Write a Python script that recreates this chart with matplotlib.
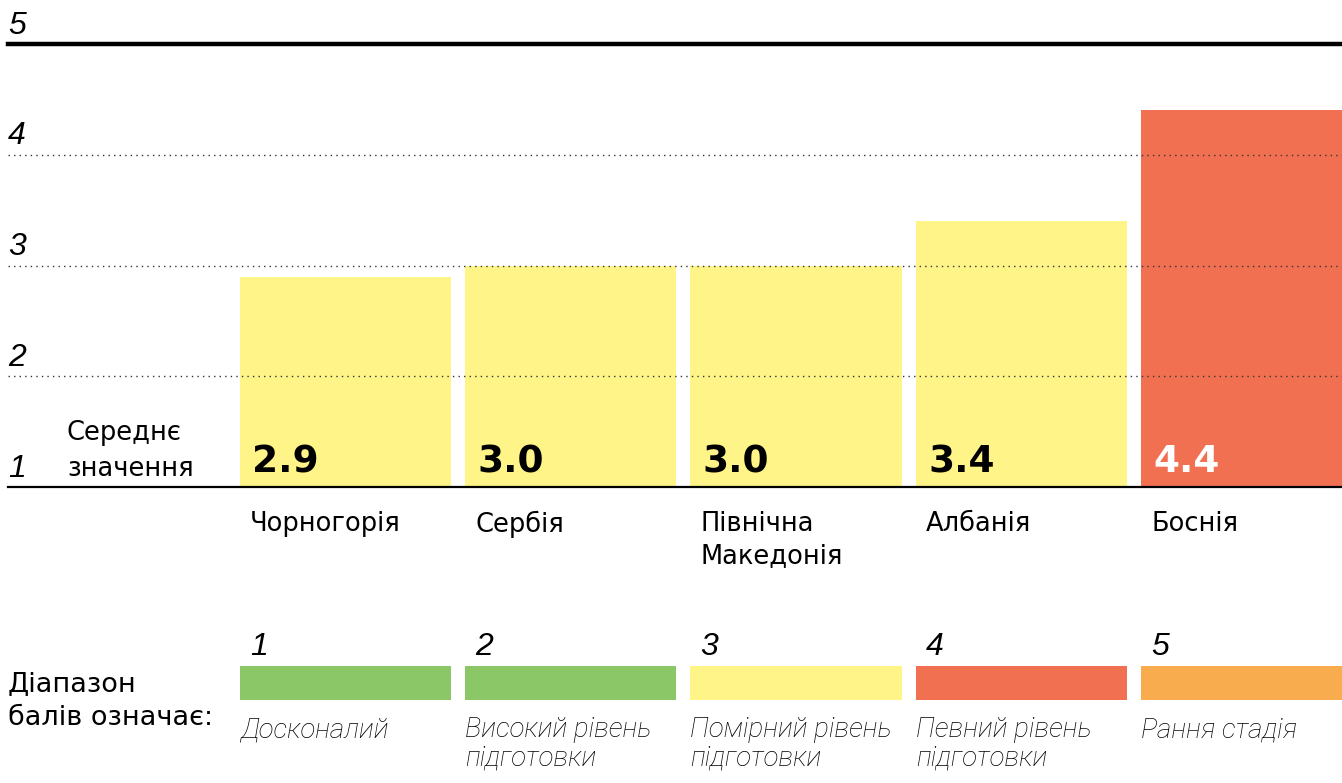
import matplotlib
matplotlib.use('Agg')
import matplotlib.pyplot as plt
import matplotlib.transforms as mtransforms
import numpy as np

# data
countries = ['Чорногорія', 'Сербія', 'Північна\nМакедонія', 'Албанія', 'Боснія']
scores = [2.9, 3.0, 3.0, 3.4, 4.4]
bar_colors = ['#FEF488', '#FEF488', '#FEF488', '#FEF488', '#F27052']
value_colors = ['black', 'black', 'black', 'black', 'white']

levels = ['1', '2', '3', '4', '5']
level_colors = ['#8BC766', '#8BC766', '#FEF488', '#F27052', '#F9AC4E']
level_desc = ['Досконалий', 'Високий рівень\nпідготовки', 'Помірний рівень\nпідготовки',
              'Певний рівень\nпідготовки', 'Рання стадія']

W, H = 1342, 783
fig = plt.figure(figsize=(W / 100, H / 100), dpi=100)

bw = 0.937
# main axes: x from px 8 to 1342, y from px 44 (val 5) to 487 (val 1)
unit = 225.25
x0 = (8 - 345.5) / unit
x1 = (1342 - 345.5) / unit
ax = fig.add_axes([8 / W, (H - 487) / H, (1342 - 8) / W, (487 - 44) / H])
ax.set_xlim(x0, x1)
ax.set_ylim(1, 5)
ax.axis('off')

x = np.arange(len(scores))
ax.bar(x, np.array(scores) - 1, bottom=1, width=bw, color=bar_colors, zorder=1)

ax.axhline(5, color='black', lw=3.2, zorder=3, clip_on=False)
ax.axhline(1, color='black', lw=1.6, zorder=3, clip_on=False)
for yv in [2, 3, 4]:
    ax.axhline(yv, color='#333333', lw=1.0, ls=(0, (1, 3)), zorder=3)

tick_font = dict(family='Liberation Sans', style='italic', fontsize=23)
ytrans = mtransforms.blended_transform_factory(ax.transAxes, ax.transData)
for yv in [1, 2, 3, 4, 5]:
    ax.text(0.0, yv + 0.03, str(yv), transform=ytrans, ha='left', va='bottom', **tick_font)

fig.text(67 / W, (H - 451) / H, 'Середнє\nзначення', ha='left', va='center',
         fontsize=18.5, family='DejaVu Sans', linespacing=1.45)

for i, v in enumerate(scores):
    ax.text(i - bw / 2 + 0.055, 1.06, f'{v:.1f}', ha='left', va='bottom',
            fontsize=27, fontweight='heavy', family='DejaVu Sans', color=value_colors[i])

trans = mtransforms.blended_transform_factory(ax.transData, fig.transFigure)
for i, c in enumerate(countries):
    ax.text(i - bw / 2 + 0.045, (H - 511) / H, c, transform=trans, ha='left', va='top',
            fontsize=18.5, family='DejaVu Sans', linespacing=1.3)

# legend strip
lax = fig.add_axes([8 / W, (H - 700) / H, (1342 - 8) / W, 34 / H])
lax.set_xlim(x0, x1)
lax.set_ylim(0, 1)
lax.axis('off')
lx = np.arange(len(levels))
lax.bar(lx, [1] * len(levels), width=bw, color=level_colors)

ltrans = mtransforms.blended_transform_factory(lax.transData, fig.transFigure)
for i, lv in enumerate(levels):
    lax.text(i - bw / 2 + 0.045, (H - 662) / H, lv, transform=ltrans,
             ha='left', va='bottom', **tick_font)
    lax.text(i - bw / 2 + 0.0, (H - 716) / H, level_desc[i], transform=ltrans,
             ha='left', va='top', fontsize=20, family='Roboto', style='italic',
             fontweight='light', color='black', linespacing=1.05)

fig.text(8 / W, (H - 701) / H, 'Діапазон\nбалів означає:', ha='left', va='center',
         fontsize=19.5, family='DejaVu Sans', linespacing=1.4)

fig.savefig('out.png', dpi=100)
